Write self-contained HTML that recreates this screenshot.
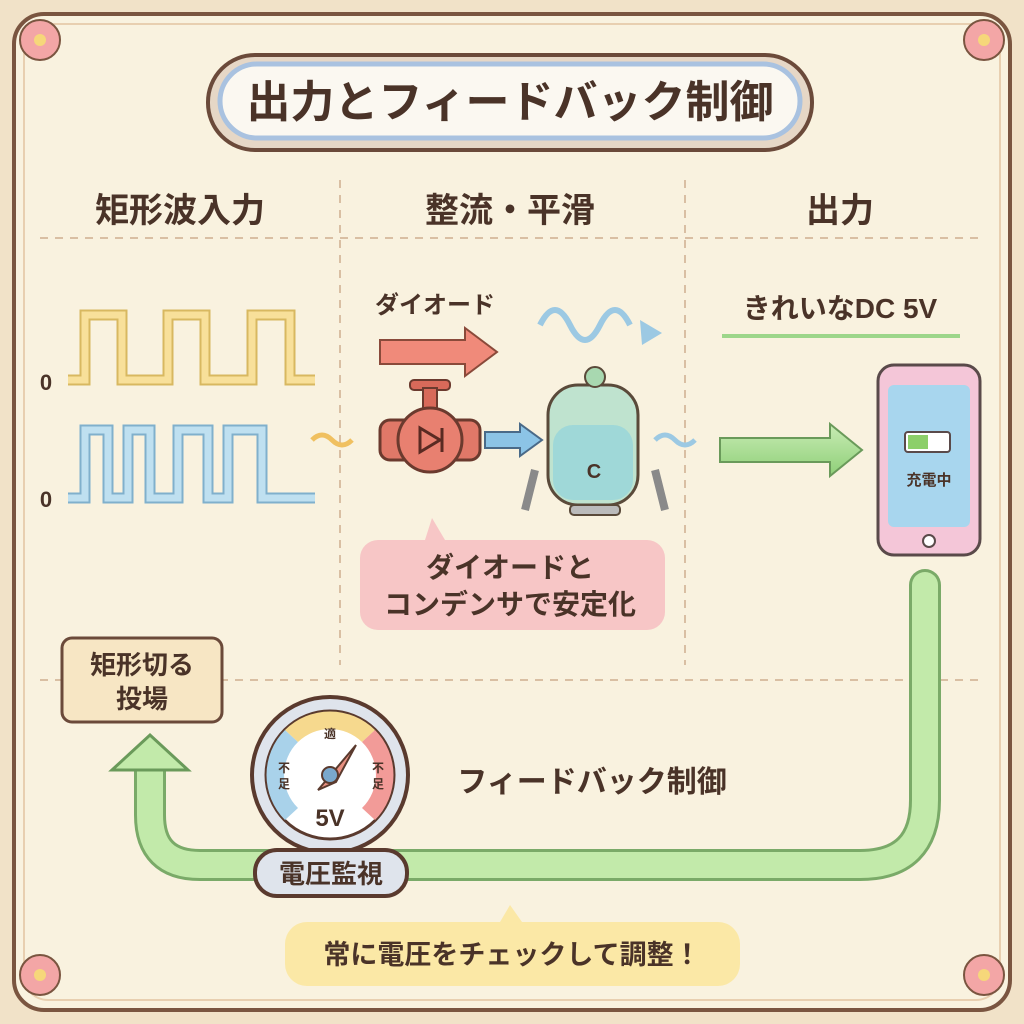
<!DOCTYPE html>
<html><head><meta charset="utf-8"><style>
html,body{margin:0;padding:0;background:#f3e6cf}
svg{display:block}
text{font-family:"Liberation Sans","Noto Sans CJK JP",sans-serif;fill:#4a3328;font-weight:bold}
</style></head><body>
<svg width="1024" height="1024" viewBox="0 0 1024 1024" xmlns="http://www.w3.org/2000/svg">
<defs>
<linearGradient id="gg" x1="0" y1="0" x2="0" y2="1"><stop offset="0" stop-color="#c8ecb4"/><stop offset="1" stop-color="#8fcf78"/></linearGradient>
</defs>
<rect width="1024" height="1024" fill="#f1e2c8"/>
<rect x="14" y="14" width="996" height="996" rx="30" fill="#f9f2df" stroke="#7a5540" stroke-width="4"/>
<rect x="24" y="24" width="976" height="976" rx="24" fill="none" stroke="#e8cfb0" stroke-width="2"/>
<g fill="#f3a6a6" stroke="#7a5540" stroke-width="2">
<circle cx="40" cy="40" r="20"/><circle cx="984" cy="40" r="20"/><circle cx="40" cy="975" r="20"/><circle cx="984" cy="975" r="20"/></g>
<g fill="#f6d77a"><circle cx="40" cy="40" r="6"/><circle cx="984" cy="40" r="6"/><circle cx="40" cy="975" r="6"/><circle cx="984" cy="975" r="6"/></g>
<rect x="208" y="55" width="604" height="95" rx="47" fill="#e6d7c6" stroke="#6b4a3a" stroke-width="4"/>
<rect x="220" y="64" width="580" height="74" rx="37" fill="#fbf8f1" stroke="#a9c2e0" stroke-width="5"/>
<text x="510" y="117" font-size="44" text-anchor="middle">出力とフィードバック制御</text>
<text x="180" y="222" font-size="34" text-anchor="middle">矩形波入力</text>
<text x="510" y="222" font-size="34" text-anchor="middle">整流・平滑</text>
<text x="840" y="222" font-size="34" text-anchor="middle">出力</text>
<g stroke="#d9bfa3" stroke-width="2" stroke-dasharray="8 7" fill="none">
<line x1="40" y1="238" x2="985" y2="238"/><line x1="40" y1="680" x2="985" y2="680"/>
<line x1="340" y1="180" x2="340" y2="665"/><line x1="685" y1="180" x2="685" y2="665"/>
</g>
<path d="M68 380 H85 V315 H122 V380 H168 V315 H205 V380 H252 V315 H290 V380 H315" fill="none" stroke="#d8b860" stroke-width="11"/>
<path d="M68 380 H85 V315 H122 V380 H168 V315 H205 V380 H252 V315 H290 V380 H315" fill="none" stroke="#f8e09a" stroke-width="7"/>
<path d="M68 498 H85 V430 H108 V498 H128 V430 H150 V498 H178 V430 H208 V498 H228 V430 H262 V498 H315" fill="none" stroke="#80b0cc" stroke-width="11"/>
<path d="M68 498 H85 V430 H108 V498 H128 V430 H150 V498 H178 V430 H208 V498 H228 V430 H262 V498 H315" fill="none" stroke="#bfe0f0" stroke-width="7"/>
<text x="46" y="390" font-size="22" text-anchor="middle">0</text>
<text x="46" y="507" font-size="22" text-anchor="middle">0</text>
<path d="M312 440 q10 -10 20 0 t20 0" fill="none" stroke="#f0c060" stroke-width="5"/>
<text x="375" y="313" font-size="24">ダイオード</text>
<path d="M380 340 H465 V328 L497 352 L465 376 V364 H380 Z" fill="#f08a7a" stroke="#8a4a3a" stroke-width="2"/>
<path d="M540 325 q15 -30 30 0 t30 0 t30 0" fill="none" stroke="#9cc9e3" stroke-width="6"/>
<path d="M640 320 L662 333 L642 345 Z" fill="#9cc9e3"/>
<rect x="410" y="380" width="40" height="10" rx="4" fill="#d86a5a" stroke="#6b3a2e" stroke-width="2"/>
<rect x="423" y="388" width="14" height="25" fill="#d86a5a" stroke="#6b3a2e" stroke-width="2"/>
<rect x="380" y="420" width="100" height="40" rx="10" fill="#e07868" stroke="#6b3a2e" stroke-width="3"/>
<circle cx="430" cy="440" r="32" fill="#e88070" stroke="#6b3a2e" stroke-width="3"/>
<path d="M420 428 L440 440 L420 452 Z M442 428 V452" fill="none" stroke="#5a2a22" stroke-width="3"/>
<path d="M485 432 H520 V424 L542 440 L520 456 V448 H485 Z" fill="#8cc4e6" stroke="#4a6a88" stroke-width="2"/>
<path d="M535 470 L525 510 M655 470 L665 510" stroke="#8a8a8a" stroke-width="8"/>
<rect x="548" y="385" width="90" height="120" rx="30" fill="#bfe3cf" stroke="#5a4a3a" stroke-width="3"/>
<rect x="553" y="425" width="80" height="75" rx="20" fill="#9fd8d8"/>
<circle cx="595" cy="377" r="10" fill="#a8d8b0" stroke="#5a4a3a" stroke-width="2"/>
<text x="594" y="478" font-size="20" text-anchor="middle">C</text>
<rect x="570" y="505" width="50" height="10" rx="4" fill="#bbb" stroke="#5a4a3a" stroke-width="2"/>
<path d="M655 440 q10 -10 20 0 t20 0" fill="none" stroke="#9cc9e3" stroke-width="5"/>
<text x="840" y="318" font-size="28" text-anchor="middle">きれいなDC 5V</text>
<line x1="722" y1="336" x2="960" y2="336" stroke="#9dd68a" stroke-width="4"/>
<path d="M720 438 H830 V424 L862 450 L830 476 V462 H720 Z" fill="url(#gg)" stroke="#6a9a5a" stroke-width="2"/>
<rect x="878" y="365" width="102" height="190" rx="16" fill="#f4c6d8" stroke="#5a4a4a" stroke-width="3"/>
<rect x="888" y="385" width="82" height="142" rx="6" fill="#a8d6ee"/>
<rect x="905" y="432" width="45" height="20" rx="3" fill="#fff" stroke="#5a4a4a" stroke-width="2"/>
<rect x="908" y="435" width="20" height="14" fill="#8ccf6a"/>
<text x="929" y="485" font-size="15" text-anchor="middle">充電中</text>
<circle cx="929" cy="541" r="6" fill="#fff" stroke="#5a4a4a" stroke-width="2"/>
<path d="M425 540 L432 518 L445 540 Z" fill="#f7c6c6"/>
<rect x="360" y="540" width="305" height="90" rx="18" fill="#f7c6c6"/>
<text x="510" y="577" font-size="28" text-anchor="middle">ダイオードと</text>
<text x="510" y="614" font-size="28" text-anchor="middle">コンデンサで安定化</text>
<rect x="62" y="638" width="160" height="84" rx="10" fill="#f7e6c4" stroke="#6b4a3a" stroke-width="3"/>
<text x="142" y="674" font-size="26" text-anchor="middle">矩形切る</text>
<text x="142" y="708" font-size="26" text-anchor="middle">投場</text>
<path d="M925 585 V800 Q925 865 860 865 H200 Q150 865 150 815 V765" fill="none" stroke="#7aaa68" stroke-width="32" stroke-linecap="round"/>
<path d="M925 585 V800 Q925 865 860 865 H200 Q150 865 150 815 V765" fill="none" stroke="#c2eaaa" stroke-width="26" stroke-linecap="round"/>
<path d="M112 770 L150 735 L188 770 Z" fill="#c2eaaa" stroke="#6a9a5a" stroke-width="3"/>
<circle cx="330" cy="775" r="78" fill="#dfe4ec" stroke="#5a3a2e" stroke-width="4"/>
<circle cx="330" cy="775" r="64" fill="#fff" stroke="#5a3a2e" stroke-width="3"/>
<path d="M285 730 A64 64 0 0 0 285 820 L298 808 A46 46 0 0 1 298 742 Z" fill="#a9d2ea"/>
<path d="M285 730 A64 64 0 0 1 375 730 L362 742 A46 46 0 0 0 298 742 Z" fill="#f6d98e"/>
<path d="M375 730 A64 64 0 0 1 375 820 L362 808 A46 46 0 0 0 362 742 Z" fill="#f29b98"/>
<text x="330" y="738" font-size="12" text-anchor="middle">適</text>
<text x="284" y="772" font-size="12" text-anchor="middle">不</text><text x="284" y="788" font-size="12" text-anchor="middle">足</text>
<text x="378" y="772" font-size="12" text-anchor="middle">不</text><text x="378" y="788" font-size="12" text-anchor="middle">足</text>
<path d="M318 790 L356 745 L336 782 Z" fill="#e89080" stroke="#5a3a2e" stroke-width="2"/>
<circle cx="330" cy="775" r="8" fill="#7aa8cc" stroke="#5a3a2e" stroke-width="2"/>
<text x="330" y="826" font-size="24" text-anchor="middle">5V</text>
<rect x="255" y="850" width="152" height="46" rx="22" fill="#dfe4ec" stroke="#5a3a2e" stroke-width="4"/>
<text x="331" y="883" font-size="26" text-anchor="middle">電圧監視</text>
<text x="592" y="792" font-size="30" text-anchor="middle">フィードバック制御</text>
<path d="M500 922 L510 905 L522 922 Z" fill="#fbe8a6"/>
<rect x="285" y="922" width="455" height="64" rx="22" fill="#fbe8a6"/>
<text x="512" y="964" font-size="27" text-anchor="middle">常に電圧をチェックして調整！</text>
</svg>
</body></html>
